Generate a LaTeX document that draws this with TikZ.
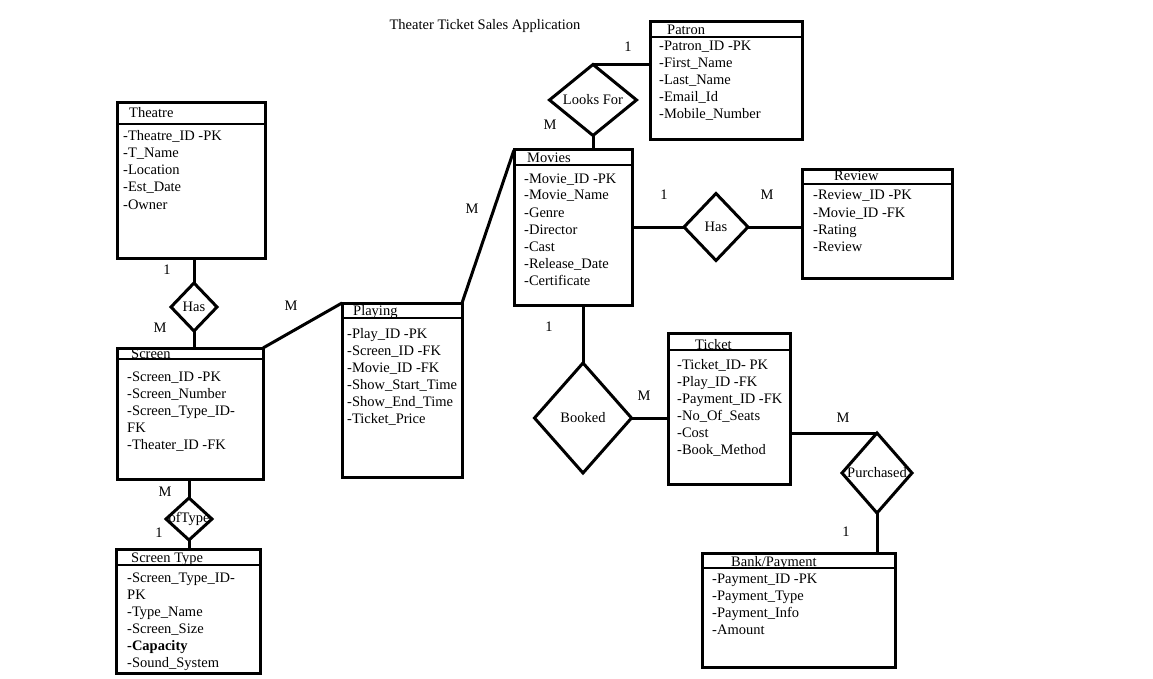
\documentclass[tikz,border=0pt]{standalone}
\usepackage{fontspec}
\setmainfont{Liberation Serif}
\usetikzlibrary{shapes.geometric,fit}
\tikzset{
  ebox/.style={draw, rectangle, line width=3pt, inner sep=0pt, outer sep=0pt},
  eline/.style={line width=2.6pt},
  rel/.style={draw, diamond, line width=3pt, inner sep=0pt, outer sep=0pt},
  conn/.style={line width=3pt},
  txt/.style={anchor=base west, inner sep=0pt, font=\fontsize{14.5}{17}\selectfont},
  card/.style={inner sep=0pt, font=\fontsize{14.5}{17}\selectfont},
}
\newcommand\entity[6]{%
  \node[ebox, fit={(#2,#3) (#4,#5)}] (#1) {};
  \draw[eline] (#2,#6) -- (#4,#6);
}
\begin{document}
\begin{tikzpicture}[x=1pt,y=-1pt]
\fill[white] (0,0) rectangle (1153,679);
\useasboundingbox (0,0) rectangle (1153,679);

\node[txt, anchor=base] (title) at (485,30) {Theater Ticket Sales Application};

% Theatre
\entity{theatre}{117}{103}{265}{258}{124}
\node[txt] (theatre-t) at (129,118) {Theatre};
\foreach \t [count=\i from 0] in {-Theatre\_ID -PK,-T\_Name,-Location,-Est\_Date,-Owner}
  \node[txt] (theatre-\i) at (123,{141+17*\i}) {\t};

% Screen
\entity{screen}{117}{348}{263}{479}{359}
\node[txt] (screen-t) at (131,358) {Screen};
\foreach \t [count=\i from 0] in {-Screen\_ID -PK,-Screen\_Number,-Screen\_Type\_ID-,FK,-Theater\_ID -FK}
  \node[txt] (screen-\i) at (127,{381+17*\i}) {\t};

% Screen Type
\entity{stype}{116}{549}{260}{673}{565}
\node[txt] (stype-t) at (131,562) {Screen Type};
\foreach \t [count=\i from 0] in {-Screen\_Type\_ID-,PK,-Type\_Name,-Screen\_Size,\textbf{-Capacity},-Sound\_System}
  \node[txt] (stype-\i) at (127,{582+17*\i}) {\t};

% Playing
\entity{playing}{342}{303}{462}{477}{318}
\node[txt] (playing-t) at (353,315) {Playing};
\foreach \t [count=\i from 0] in {-Play\_ID -PK,-Screen\_ID -FK,-Movie\_ID -FK,-Show\_Start\_Time,-Show\_End\_Time,-Ticket\_Price}
  \node[txt] (playing-\i) at (347,{338+17*\i}) {\t};

% Movies
\entity{movies}{514}{150}{632}{305}{165}
\node[txt] (movies-t) at (527,163) {Movies};
\foreach \t [count=\i from 0] in {-Movie\_ID -PK,-Movie\_Name,-Genre,-Director,-Cast,-Release\_Date,-Certificate}
  \node[txt] (movies-\i) at (524,{183+17*\i}) {\t};

% Patron
\entity{patron}{650}{22}{802}{140}{37}
\node[txt] (patron-t) at (667,35) {Patron};
\foreach \t [count=\i from 0] in {-Patron\_ID -PK,-First\_Name,-Last\_Name,-Email\_Id,-Mobile\_Number}
  \node[txt] (patron-\i) at (659,{51+17*\i}) {\t};

% Review
\entity{review}{802}{170}{952}{278}{184}
\node[txt] (review-t) at (834,181) {Review};
\foreach \t [count=\i from 0] in {-Review\_ID -PK,-Movie\_ID -FK,-Rating,-Review}
  \node[txt] (review-\i) at (813,{200+17*\i}) {\t};

% Ticket
\entity{ticket}{668}{333}{790}{484}{350}
\node[txt] (ticket-t) at (695,349) {Ticket};
\foreach \t [count=\i from 0] in {-Ticket\_ID- PK,-Play\_ID -FK,-Payment\_ID -FK,-No\_Of\_Seats,-Cost,-Book\_Method}
  \node[txt] (ticket-\i) at (677,{369+17*\i}) {\t};

% Bank/Payment
\entity{bank}{702}{553}{895}{667}{568}
\node[txt] (bank-t) at (731,566) {Bank/Payment};
\foreach \t [count=\i from 0] in {-Payment\_ID -PK,-Payment\_Type,-Payment\_Info,-Amount}
  \node[txt] (bank-\i) at (712,{583+17*\i}) {\t};

% Relationships
\node[rel, minimum width=46pt, minimum height=48pt] (has1) at (194,307) {};
\node[card] (has1-l) at (has1) {Has};
\node[rel, minimum width=46pt, minimum height=42pt] (oftype) at (189,519) {};
\node[card] (oftype-l) at (oftype) {ofType};
\node[rel, minimum width=87pt, minimum height=71pt] (looks) at (593,100) {};
\node[card] (looks-l) at (looks) {Looks For};
\node[rel, minimum width=64pt, minimum height=67pt] (has2) at (716,227) {};
\node[card] (has2-l) at (has2) {Has};
\node[rel, minimum width=97pt, minimum height=110pt] (booked) at (583,418) {};
\node[card] (booked-l) at (booked) {Booked};
\node[rel, minimum width=70pt, minimum height=80pt] (purch) at (877,473) {};
\node[card] (purch-l) at (purch) {Purchased};

% Connectors
\draw[conn] (has1.north |- theatre.south) -- (has1.north);
\draw[conn] (has1.south) -- (has1.south |- screen.north);
\draw[conn] (oftype.north |- screen.south) -- (oftype.north);
\draw[conn] (oftype.south) -- (oftype.south |- stype.north);
\draw[conn] (screen.north east) -- (playing.north west);
\draw[conn] (playing.north east) -- (movies.north west);
\draw[conn] (looks.south) -- (looks.south |- movies.north);
\draw[conn] (looks.north) -- (looks.north -| patron.west);
\draw[conn] (has2.west -| movies.east) -- (has2.west);
\draw[conn] (has2.east) -- (has2.east -| review.west);
\draw[conn] (booked.north |- movies.south) -- (booked.north);
\draw[conn] (booked.east) -- (booked.east -| ticket.west);
\draw[conn] (purch.north -| ticket.east) -- (purch.north);
\draw[conn] (purch.south) -- (purch.south |- bank.north);

% Cardinalities
\node[card] (c1) at (167,270) {1};
\node[card] (c2) at (160,328) {M};
\node[card] (c3) at (165,492) {M};
\node[card] (c4) at (159,533) {1};
\node[card] (c5) at (291,306) {M};
\node[card] (c6) at (472,209) {M};
\node[card] (c7) at (628,47) {1};
\node[card] (c8) at (550,125) {M};
\node[card] (c9) at (664,195) {1};
\node[card] (c10) at (767,195) {M};
\node[card] (c11) at (549,327) {1};
\node[card] (c12) at (644,396) {M};
\node[card] (c13) at (843,418) {M};
\node[card] (c14) at (846,532) {1};
\end{tikzpicture}
\end{document}
